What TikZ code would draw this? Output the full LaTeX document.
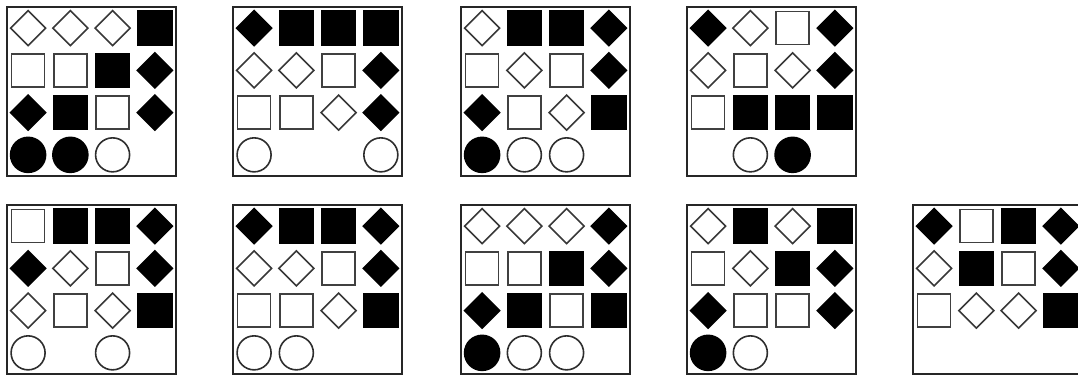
\documentclass[tikz,border=0pt]{standalone}
\usetikzlibrary{shapes.geometric}
\tikzset{
  cellbase/.style={inner sep=0pt, outer sep=0pt, line width=1.6pt},
  shpD/.style={cellbase, diamond, minimum width=35pt, minimum height=35pt, draw=black!78, fill=white},
  shpd/.style={cellbase, diamond, minimum width=35pt, minimum height=35pt, draw=black, fill=black},
  shpS/.style={cellbase, rectangle, minimum size=33pt, draw=black!75, fill=white},
  shps/.style={cellbase, rectangle, minimum size=34pt, draw=black, fill=black},
  shpC/.style={cellbase, circle, minimum size=34pt, draw=black!82, fill=white},
  shpc/.style={cellbase, circle, minimum size=35pt, draw=black, fill=black},
  panelframe/.style={draw=black!85, line width=2pt, minimum size=169pt, inner sep=0pt, outer sep=0pt, anchor=north west},
}
\newcommand\mypanel[4]{%
  \node[panelframe] (#1) at (#2,#3) {};
  \foreach \t [count=\i from 0] in {#4} {%
    \pgfmathtruncatemacro\col{mod(\i,4)}%
    \pgfmathtruncatemacro\row{int(\i/4)}%
    \if\t x\else
      \node[shp\t] (#1-\i) at ({#2+21.1+42.25*\col},{#3+21.1+42.25*\row}) {};
    \fi
  }%
}
\begin{document}
\begin{tikzpicture}[x=1pt,y=-1pt]
\useasboundingbox (0,0) rectangle (1078,376);
\clip (0,0) rectangle (1078,376);
\mypanel{pa}{7}{7}{D,D,D,s, S,S,s,d, d,s,S,d, c,c,C,x}
\mypanel{pb}{233}{7}{d,s,s,s, D,D,S,d, S,S,D,d, C,x,x,C}
\mypanel{pc}{461}{7}{D,s,s,d, S,D,S,d, d,S,D,s, c,C,C,x}
\mypanel{pd}{687}{7}{d,D,S,d, D,S,D,d, S,s,s,s, x,C,c,x}
\mypanel{pe}{7}{205}{S,s,s,d, d,D,S,d, D,S,D,s, C,x,C,x}
\mypanel{pf}{233}{205}{d,s,s,d, D,D,S,d, S,S,D,s, C,C,x,x}
\mypanel{pg}{461}{205}{D,D,D,d, S,S,s,d, d,s,S,s, c,C,C,x}
\mypanel{ph}{687}{205}{D,s,D,s, S,D,s,d, d,S,S,d, c,C,x,x}
\mypanel{pi}{913}{205}{d,S,s,d, D,s,S,d, S,D,D,s, x,x,x,x}
\end{tikzpicture}
\end{document}
